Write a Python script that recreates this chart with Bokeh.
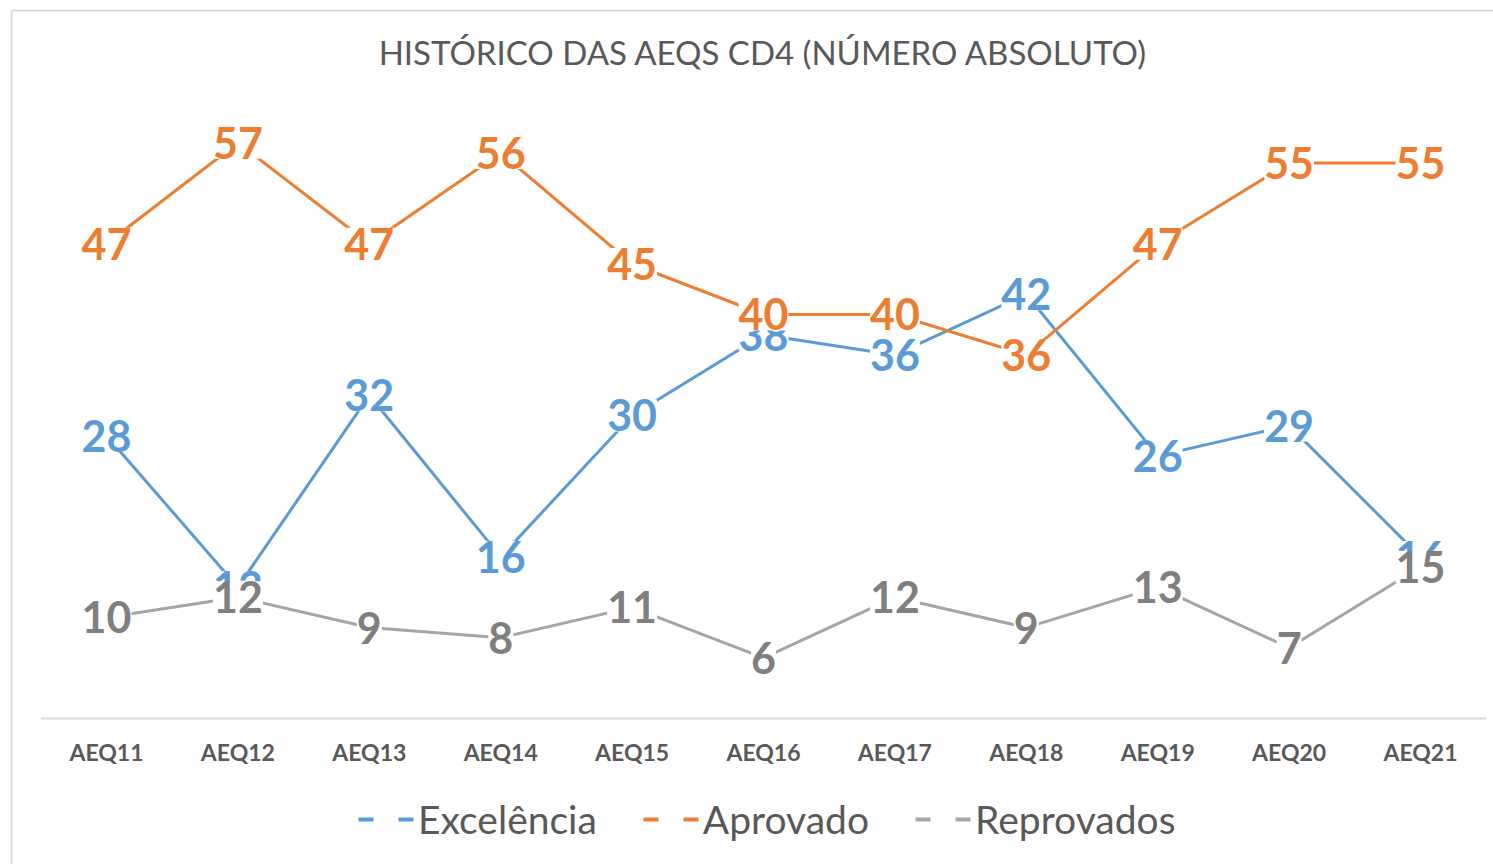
from bokeh.plotting import figure
from bokeh.models import ColumnDataSource, Legend, LegendItem, Range1d, Label, Span
from bokeh.core.properties import value
from bokeh.embed import file_html
from bokeh.resources import INLINE

categories = ["AEQ11", "AEQ12", "AEQ13", "AEQ14", "AEQ15", "AEQ16",
              "AEQ17", "AEQ18", "AEQ19", "AEQ20", "AEQ21"]
excelencia = [28, 13, 32, 16, 30, 38, 36, 42, 26, 29, 16]
aprovado = [47, 57, 47, 56, 45, 40, 40, 36, 47, 55, 55]
reprovados = [10, 12, 9, 8, 11, 6, 12, 9, 13, 7, 15]
title_text = "HISTÓRICO DAS AEQS CD4 (NÚMERO ABSOLUTO)"

series = [
    ("Excelência", excelencia, "#5B9BD5", "#5B9BD5"),
    ("Aprovado", aprovado, "#ED7D31", "#ED7D31"),
    ("Reprovados", reprovados, "#A5A5A5", "#7F7F7F"),
]

n = len(categories)
xs = list(range(n))

# layout: ~131.4 px per category, ~10.1 px per value unit
x0, x1 = -0.7306, n - 1 + 0.5556
y0, y1 = -14.46, 70.2
p = figure(width=1493, height=864,
           x_range=Range1d(x0, x1), y_range=Range1d(y0, y1),
           output_backend="svg", toolbar_location=None,
           min_border_left=10, min_border_right=0, min_border_top=9,
           min_border_bottom=0)
p.xaxis.visible = False
p.yaxis.visible = False
p.xgrid.grid_line_color = None
p.ygrid.grid_line_color = None
p.outline_line_color = None

# chart-area border (left and top)
p.add_layout(Span(location=x0 + 1 / 131.4, dimension="height",
                  line_color="#D9D9D9", line_width=2))
p.add_layout(Span(location=y1 - 1 / 10.1, dimension="width",
                  line_color="#D9D9D9", line_width=2))

# category axis line
p.segment(x0=[-0.5], y0=[0], x1=[n - 0.5], y1=[0], line_color="#D9D9D9", line_width=2)

# category labels
p.text(x=xs, y=[-3.37] * n, text=categories, text_align="center",
       text_baseline="middle", text_font=value("Lato"), text_font_style="bold",
       text_font_size="23px", text_color="#595959")

# title
p.add_layout(Label(x=(n - 1) / 2, y=66.04, text=title_text, text_align="center",
                   text_baseline="middle", text_font="Lato",
                   text_font_size="33px", text_color="#595959"))

sources = []
for name, vals, color, lcolor in series:
    src = ColumnDataSource(dict(x=xs, y=vals, t=[str(v) for v in vals]))
    sources.append(src)
    p.line("x", "y", source=src, line_color=color, line_width=3)

for (name, vals, color, lcolor), src in zip(series, sources):
    p.text("x", "y", text="t", source=src, text_align="center",
           text_baseline="middle", text_font=value("Lato"),
           text_font_style="bold", text_font_size="43px", text_color=lcolor,
           background_fill_color="white", padding=0)

items = []
nan = float("nan")
for name, vals, color, lcolor in series:
    r = p.line([nan], [nan], line_color=color, line_width=4, line_dash="15 25")
    items.append(LegendItem(label=name, renderers=[r]))

legend = Legend(items=items, orientation="horizontal", location=(348, 22),
                glyph_width=56, glyph_height=30, label_standoff=4, spacing=46,
                label_text_font="Lato", label_text_font_size="39px",
                label_text_color="#595959", border_line_color=None,
                background_fill_alpha=0, padding=0, margin=0)
p.add_layout(legend, "center")

open("out.html", "w").write(file_html(p, INLINE))
